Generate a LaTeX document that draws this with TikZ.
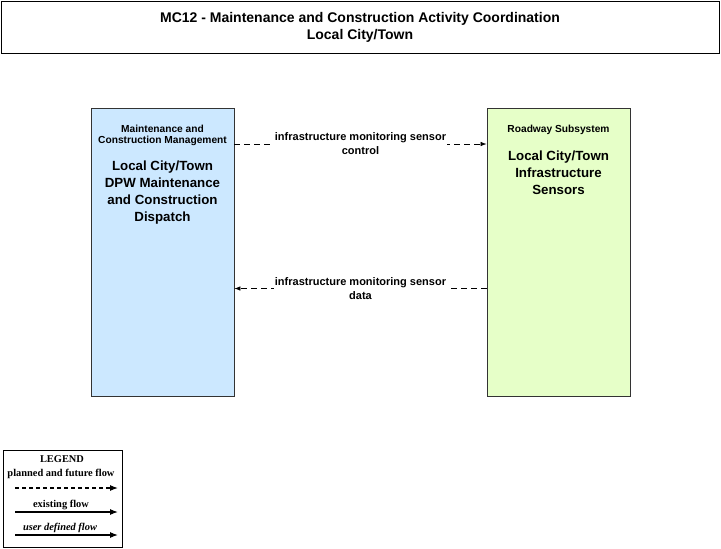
\documentclass[tikz,border=0pt]{standalone}
\usepackage{fontspec}
\setmainfont{Liberation Serif}
\newfontfamily\arialfont{Liberation Sans}
\usetikzlibrary{arrows.meta}

\definecolor{mcblue}{RGB}{204,232,255}
\definecolor{rsgreen}{RGB}{230,255,200}

\tikzset{
	element/.style={draw=black!80, line width=0.8pt, minimum width=143pt, minimum height=288pt, inner sep=0pt},
	clstext/.style={font=\arialfont\bfseries\fontsize{10.2}{11.5}\selectfont, align=center},
	nametext/.style={font=\arialfont\bfseries\fontsize{13.3}{17}\selectfont, align=center},
	flowtext/.style={font=\arialfont\bfseries\fontsize{11}{14}\selectfont, align=center, fill=white, inner sep=1pt},
	planned/.style={line width=0.7pt, dash pattern=on 6pt off 4pt, -{Latex[length=6pt,width=4.5pt]}},
	existing/.style={line width=1.1pt, -{Latex[length=8pt,width=6pt]}},
	legtext/.style={font=\bfseries\fontsize{10.4}{11}\selectfont}
}

\begin{document}
\begin{tikzpicture}[x=1pt,y=-1pt]
	\useasboundingbox (0,0) rectangle (721,549);

	%title
	\node[draw, line width=0.8pt, minimum width=718pt, minimum height=52pt, inner sep=0pt] (title) at (360,27) {};
	\node[font=\arialfont\bfseries\fontsize{14}{17}\selectfont, align=center] (titleTxt) at (360,27)
		{MC12 - Maintenance and Construction Activity Coordination\\Local City/Town};

	%maintenance and construction management
	\node[element, fill=mcblue] (maint) at (162.5,252) {};
	\node[clstext] (maintCls) at (162.5,135.5) {Maintenance and\\Construction Management};
	\node[nametext] (maintName) at (162.5,193) {Local City/Town\\DPW Maintenance\\and Construction\\Dispatch};

	%roadway subsystem
	\node[element, fill=rsgreen] (sens) at (558.5,252) {};
	\node[clstext] (sensCls) at (558.5,130) {Roadway Subsystem};
	\node[nametext] (sensName) at (558.5,173) {Local City/Town\\Infrastructure\\Sensors};

	%flows
	\coordinate (ctlPt) at (360,144);
	\coordinate (datPt) at (360,288.5);
	\draw[planned] (maint.east |- ctlPt) -- (sens.west |- ctlPt)
		node[flowtext, midway] (ctlLbl) {infrastructure monitoring sensor\\control};
	\draw[planned] (sens.west |- datPt) -- (maint.east |- datPt)
		node[flowtext, midway] (datLbl) {infrastructure monitoring sensor\\data};

	%legend
	\draw[line width=0.8pt] (3,450) rectangle (122,547);
	\node[legtext] (legHead) at (62,459) {LEGEND};
	\node[legtext] (legPlan) at (61,474) {planned and future flow};
	\node[legtext] (legExist) at (61,505) {existing flow};
	\node[legtext, font=\bfseries\itshape\fontsize{10.4}{11}\selectfont] (legUser) at (60,528) {user defined flow};
	\coordinate (pA) at (15,488);  \coordinate (pB) at (118,488);
	\coordinate (eA) at (15,512);  \coordinate (eB) at (118,512);
	\coordinate (uA) at (15,535);  \coordinate (uB) at (118,535);
	\draw[line width=1.1pt, dash pattern=on 4pt off 3pt, -{Latex[length=8pt,width=6pt]}] (pA) -- (pB);
	\draw[existing] (eA) -- (eB);
	\draw[existing] (uA) -- (uB);
\end{tikzpicture}
\end{document}
